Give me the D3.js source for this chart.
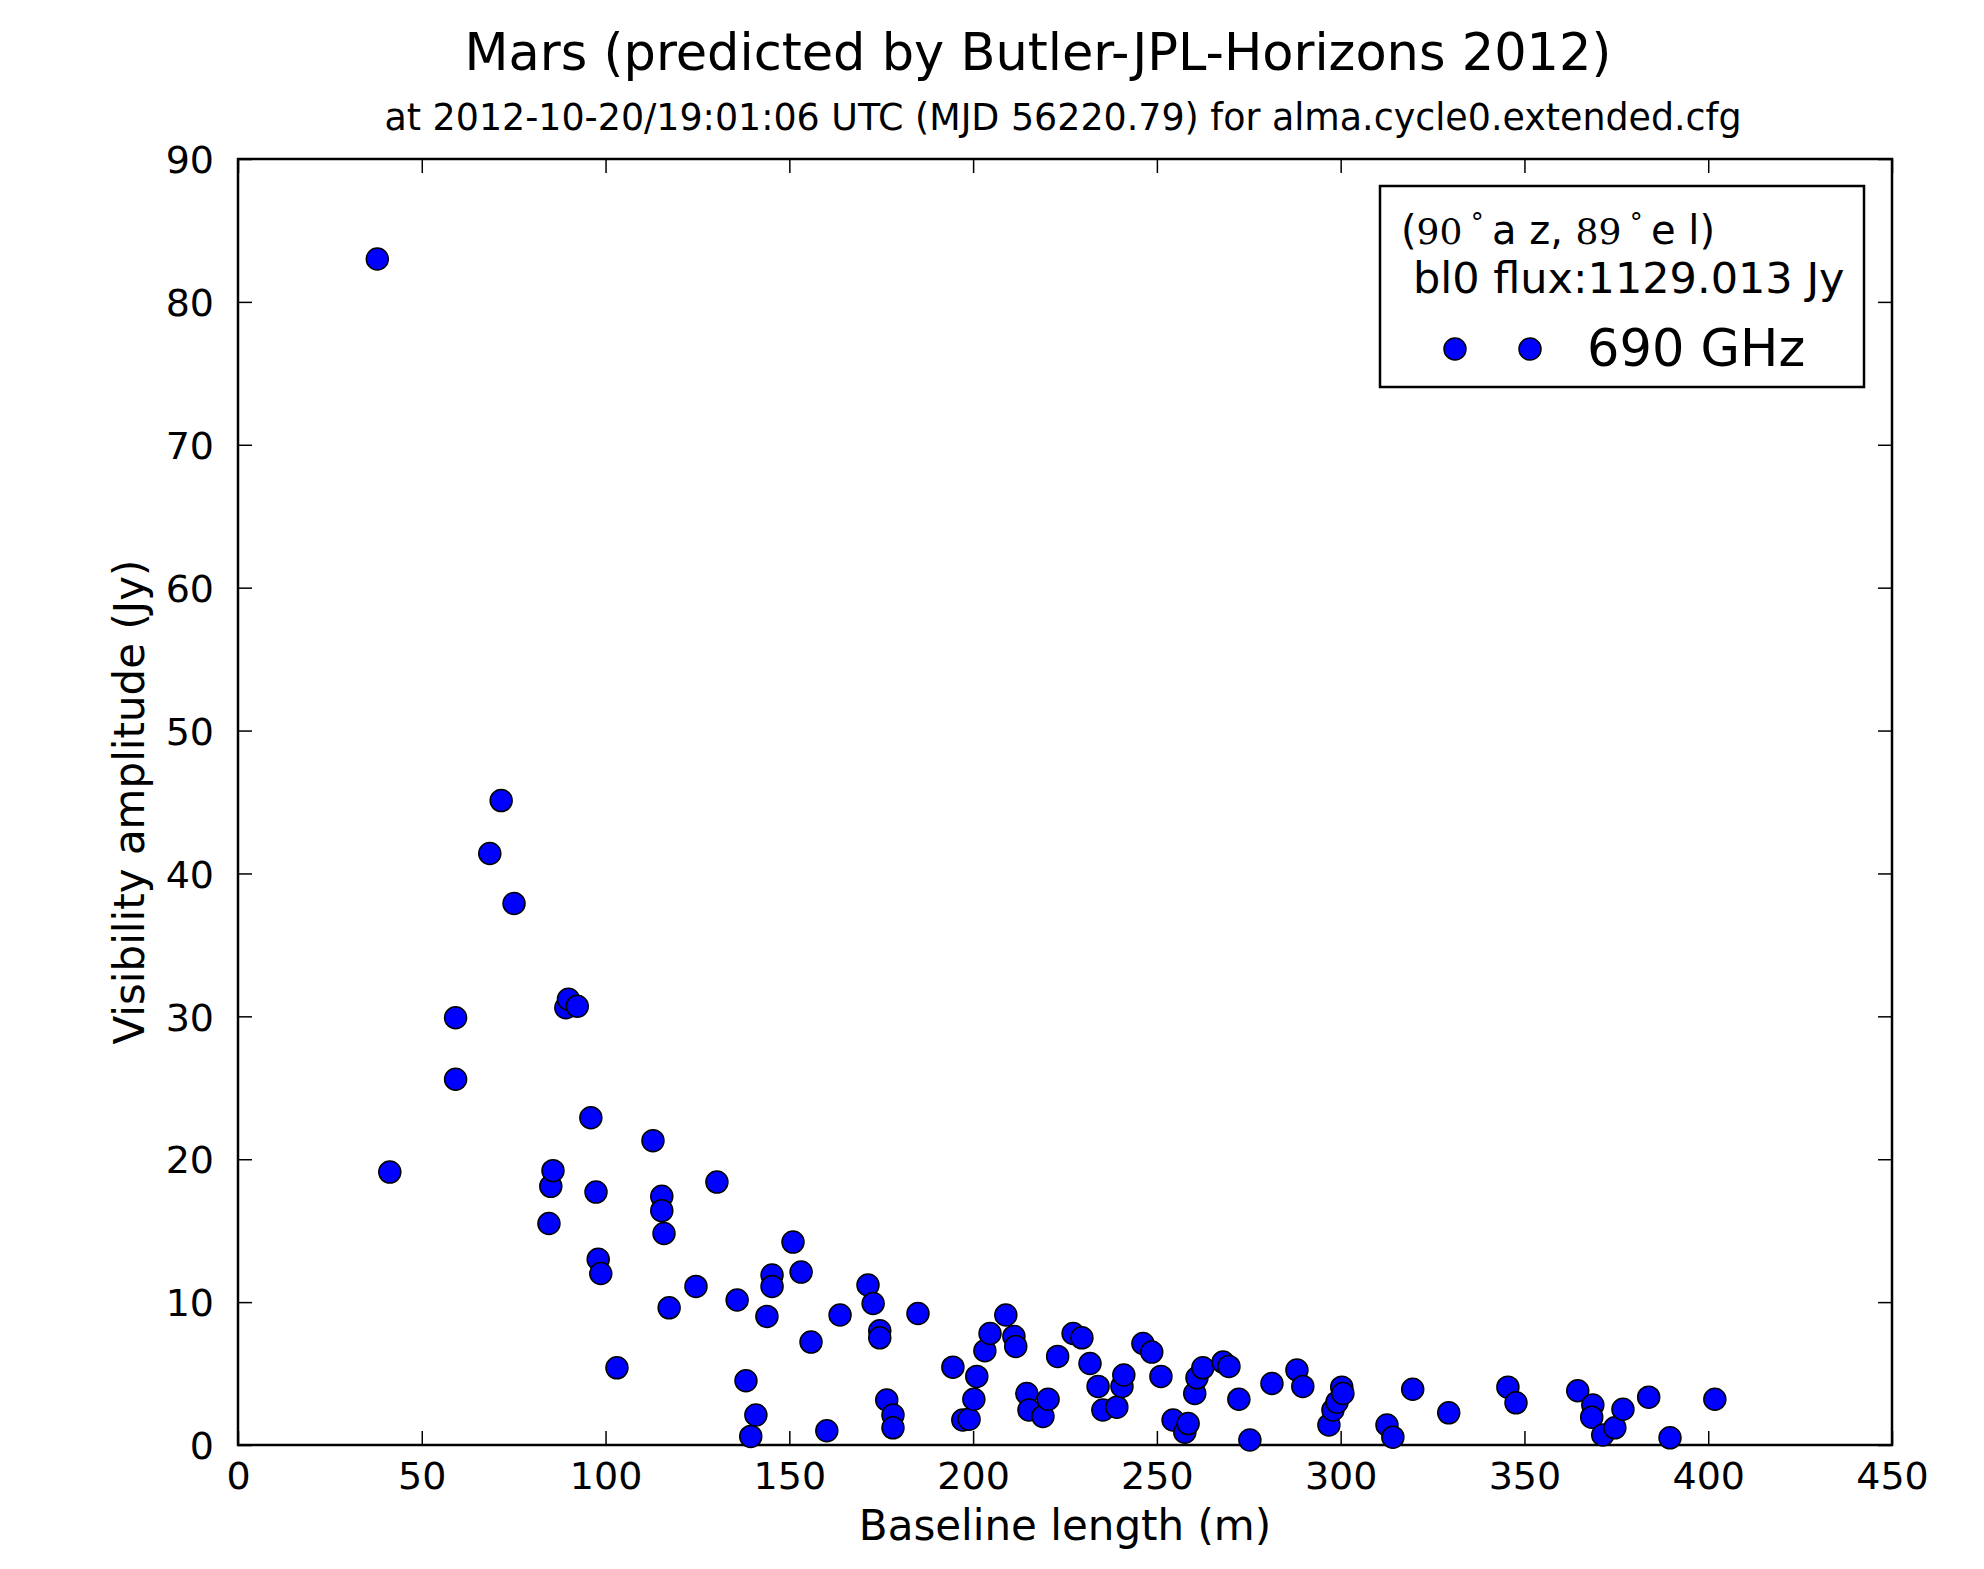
<!DOCTYPE html>
<html>
<head>
    <meta charset="utf-8">
    <title>Mars visibility</title>
    <style>
        body { margin: 0; background: #fff; }
        text { font-family: "DejaVu Sans", sans-serif; fill: #000; }
        .domain { display: none; }
    </style>
</head>
<body>
<script src="https://d3js.org/d3.v7.min.js"></script>
<script>
    // baseline length (m) and visibility amplitude (Jy)
    var baseline = [37.9, 41.3, 59.2, 59.2, 68.5, 71.6, 75.1, 84.6, 85.1, 85.7,
        89.2, 89.9, 92.3, 96.0, 97.4, 98.0, 98.7, 103.1, 112.9, 115.3,
        115.3, 115.9, 117.3, 124.6, 130.3, 135.8, 138.2, 139.5, 140.9, 143.9,
        145.3, 145.3, 151.0, 153.2, 155.9, 160.2, 163.8, 171.4, 172.8, 174.6,
        174.6, 176.5, 178.2, 178.2, 185.0, 194.5, 197.2, 198.9, 200.2, 201.0,
        203.2, 204.6, 208.9, 211.1, 211.6, 214.6, 215.2, 219.0, 220.4, 223.0,
        227.2, 229.6, 231.8, 234.0, 235.3, 239.1, 240.5, 241.0, 246.2, 248.6,
        251.1, 254.4, 257.6, 258.5, 260.3, 260.9, 262.5, 268.0, 269.6, 272.3,
        275.3, 281.3, 288.1, 289.7, 296.8, 297.9, 299.0, 300.3, 300.6, 312.6,
        314.2, 319.6, 329.4, 345.5, 347.7, 364.5, 368.6, 368.3, 371.3, 374.6,
        376.8, 383.8, 389.6, 401.8];
    var amplitude = [83.0, 19.1, 29.9, 25.6, 41.4, 45.1, 37.9, 15.5, 18.1, 19.2,
        30.6, 31.2, 30.7, 22.9, 17.7, 13.0, 12.0, 5.4, 21.3, 17.4,
        16.4, 14.8, 9.6, 11.1, 18.4, 10.15, 4.5, 0.6, 2.1, 9.0,
        11.9, 11.1, 14.2, 12.1, 7.2, 1.0, 9.1, 11.2, 9.9, 8.0,
        7.5, 3.15, 2.1, 1.2, 9.2, 5.45, 1.75, 1.8, 3.2, 4.8,
        6.6, 7.8, 9.1, 7.6, 6.9, 3.6, 2.45, 2.0, 3.2, 6.2,
        7.8, 7.5, 5.7, 4.1, 2.45, 2.65, 4.1, 4.9, 7.1, 6.5,
        4.8, 1.75, 0.9, 1.5, 3.6, 4.7, 5.4, 5.8, 5.5, 3.2,
        0.35, 4.3, 5.25, 4.1, 1.4, 2.45, 3.0, 4.05, 3.6, 1.4,
        0.55, 3.9, 2.25, 4.05, 2.95, 3.8, 2.8, 1.95, 0.7, 1.2,
        2.5, 3.35, 0.5, 3.2];

    var xTicks = [0, 50, 100, 150, 200, 250, 300, 350, 400, 450];
    var yTicks = [0, 10, 20, 30, 40, 50, 60, 70, 80, 90];

    var titleText = "Mars (predicted by Butler-JPL-Horizons 2012)";
    var subtitleText = "at 2012-10-20/19:01:06 UTC (MJD 56220.79) for alma.cycle0.extended.cfg";
    var xLabel = "Baseline length (m)";
    var yLabel = "Visibility amplitude (Jy)";
    var legendFlux = "bl0 flux:1129.013 Jy";
    var legendName = "690 GHz";

    var W = 1984, H = 1569;
    var margin = {top: 159, right: 92, bottom: 124, left: 238},
        width = W - margin.left - margin.right,
        height = H - margin.top - margin.bottom;

    var svg = d3.select("body").append("svg")
        .attr("width", W)
        .attr("height", H);

    var g = svg.append("g")
        .attr("transform", "translate(" + margin.left + "," + margin.top + ")");

    var x = d3.scaleLinear().domain([0, 450]).range([0, width]);
    var y = d3.scaleLinear().domain([0, 90]).range([height, 0]);

    var tickLen = 14;

    // bottom axis with labels, ticks pointing inward
    var xAxis = g.append("g")
        .attr("transform", "translate(0," + height + ")")
        .call(d3.axisBottom(x).tickValues(xTicks).tickSize(-tickLen).tickPadding(tickLen + 3));
    // top axis, ticks only
    var xAxisTop = g.append("g")
        .call(d3.axisTop(x).tickValues(xTicks).tickSize(-tickLen).tickFormat(""));
    var yAxis = g.append("g")
        .call(d3.axisLeft(y).tickValues(yTicks).tickSize(-tickLen).tickPadding(tickLen + 10));
    var yAxisRight = g.append("g")
        .attr("transform", "translate(" + width + ",0)")
        .call(d3.axisRight(y).tickValues(yTicks).tickSize(-tickLen).tickFormat(""));

    g.selectAll(".tick line").attr("stroke", "#000").attr("stroke-width", 1.5);
    g.selectAll(".tick text")
        .style("font-family", "DejaVu Sans")
        .style("font-size", "38px")
        .attr("fill", "#000");
    yAxis.selectAll(".tick text").attr("dy", "0.36em");

    // frame
    g.append("rect")
        .attr("width", width)
        .attr("height", height)
        .attr("fill", "none")
        .attr("stroke", "#000")
        .attr("stroke-width", 2.5);

    // points
    var points = baseline.map(function (b, i) {
        return {b: b, a: amplitude[i]};
    });

    g.selectAll("circle.pt")
        .data(points)
        .enter().append("circle")
        .attr("class", "pt")
        .attr("cx", function (d) { return x(d.b); })
        .attr("cy", function (d) { return y(d.a); })
        .attr("r", 11)
        .attr("fill", "#0000ff")
        .attr("stroke", "#000")
        .attr("stroke-width", 1.5);

    // titles
    svg.append("text")
        .attr("x", 1038).attr("y", 70)
        .attr("text-anchor", "middle")
        .style("font-size", "51px")
        .text(titleText);

    svg.append("text")
        .attr("x", 1063).attr("y", 130)
        .attr("text-anchor", "middle")
        .style("font-size", "36.4px")
        .text(subtitleText);

    svg.append("text")
        .attr("x", margin.left + width / 2).attr("y", 1540)
        .attr("text-anchor", "middle")
        .style("font-size", "42px")
        .text(xLabel);

    svg.append("text")
        .attr("transform", "translate(144," + (margin.top + height / 2) + ") rotate(-90)")
        .attr("text-anchor", "middle")
        .style("font-size", "42px")
        .text(yLabel);

    // legend
    var leg = svg.append("g");
    leg.append("rect")
        .attr("x", 1380).attr("y", 186)
        .attr("width", 484).attr("height", 201)
        .attr("fill", "#fff")
        .attr("stroke", "#000")
        .attr("stroke-width", 2.5);

    var l1 = leg.append("text")
        .attr("x", 1401).attr("y", 244)
        .style("font-size", "40px");
    l1.append("tspan").text("(");
    l1.append("tspan").style("font-family", "DejaVu Serif").style("font-size", "36px").text("90");
    l1.append("tspan").attr("dy", -12).style("font-size", "26px").text(" \u00b0 ");
    l1.append("tspan").attr("dy", 12).text(" a z, ");
    l1.append("tspan").style("font-family", "DejaVu Serif").style("font-size", "36px").text("89");
    l1.append("tspan").attr("dy", -12).style("font-size", "26px").text(" \u00b0 ");
    l1.append("tspan").attr("dy", 12).text("  e l)");

    leg.append("text")
        .attr("x", 1413).attr("y", 293)
        .style("font-size", "43px")
        .text(legendFlux);

    leg.selectAll("circle")
        .data([1455, 1530])
        .enter().append("circle")
        .attr("cx", function (d) { return d; })
        .attr("cy", 349)
        .attr("r", 11)
        .attr("fill", "#0000ff")
        .attr("stroke", "#000")
        .attr("stroke-width", 1.5);

    leg.append("text")
        .attr("x", 1587).attr("y", 366)
        .style("font-size", "51px")
        .text(legendName);
</script>
</body>
</html>
